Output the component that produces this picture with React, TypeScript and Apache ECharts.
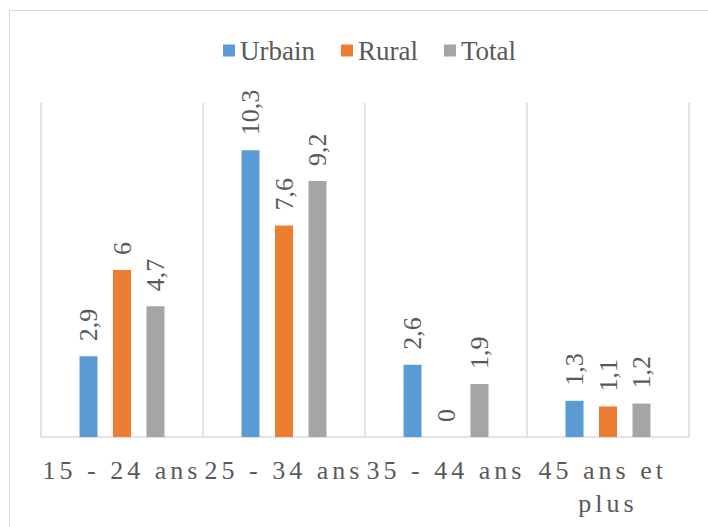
import React, { useEffect, useRef } from "react";
import * as echarts from "echarts";

const categories = ["15 - 24 ans", "25 - 34 ans", "35 - 44 ans", "45 ans et plus"];
const urbain = [2.9, 10.3, 2.6, 1.3];
const rural = [6, 7.6, 0, 1.1];
const total = [4.7, 9.2, 1.9, 1.2];
const seriesNames = ["Urbain", "Rural", "Total"];
const colors = ["#5B9BD5", "#ED7D31", "#A5A5A5"];

const FONT = "Times New Roman, Liberation Serif, serif";
const fmt = (v: number) => String(v).replace(".", ",");

export default function App() {
  const ref = useRef<HTMLDivElement>(null);
  useEffect(() => {
    if (!ref.current) return;
    const el = ref.current;
    const chart = echarts.init(el, null, { renderer: "svg" });
    const label = {
      show: true,
      position: "top",
      rotate: 90,
      align: "left",
      verticalAlign: "middle",
      distance: 15,
      color: "#595959",
      fontSize: 26,
      fontFamily: FONT,
      formatter: (p: any) => fmt(p.value),
    };
    const datas = [urbain, rural, total];
    chart.setOption({
      animation: false,
      textStyle: { fontFamily: FONT },
      legend: {
        top: 32,
        left: 218,
        itemWidth: 12,
        itemHeight: 12,
        itemGap: 26,
        icon: "rect",
        textStyle: { color: "#595959", fontSize: 27, fontFamily: FONT },
        data: seriesNames,
      },
      grid: { left: 41, right: 19, top: 103, bottom: 90 },
      xAxis: {
        type: "category",
        data: categories,
        axisLine: { show: true, lineStyle: { color: "#D9D9D9", width: 1.5 } },
        axisTick: { show: false },
        splitLine: { show: true, lineStyle: { color: "#D9D9D9", width: 1.5 } },
        axisLabel: {
          color: "#595959",
          fontSize: 26,
          fontFamily: FONT,
          margin: 17,
          lineHeight: 33,
          width: 128,
          overflow: "break",
          interval: 0,
        },
      },
      yAxis: {
        type: "value",
        min: 0,
        max: 12,
        show: false,
      },
      series: seriesNames.map((name, i) => ({
        name,
        type: "bar",
        data: datas[i],
        barWidth: 18,
        barGap: "86%",
        itemStyle: { color: colors[i] },
        label,
      })),
    });
    const axisLines = new Set<string>(["45 ans et", "plus"]);
    categories.forEach((c) => axisLines.add(c));
    const fix = () => {
      el.querySelectorAll("text").forEach((t) => {
        const st = (t as SVGTextElement).style;
        st.setProperty("font-family", "'Liberation Serif', 'Times New Roman', serif", "important");
        const s = (t.textContent || "").trim();
        if (axisLines.has(s)) st.setProperty("letter-spacing", "4px");
      });
    };
    fix();
    const raf = requestAnimationFrame(fix);
    const tm = setTimeout(fix, 50);
    return () => {
      cancelAnimationFrame(raf);
      clearTimeout(tm);
      chart.dispose();
    };
  }, []);
  return (
    <div
      style={{
        position: "fixed",
        left: 0,
        top: 0,
        width: 708,
        height: 527,
        background: "#fff",
      }}
    >
      <div
        style={{
          position: "absolute",
          left: 9,
          top: 10,
          width: 720,
          height: 540,
          border: "1.5px solid #D9D9D9",
          boxSizing: "border-box",
        }}
      />
      <div ref={ref} style={{ position: "absolute", left: 0, top: 0, width: 708, height: 527 }} />
    </div>
  );
}
